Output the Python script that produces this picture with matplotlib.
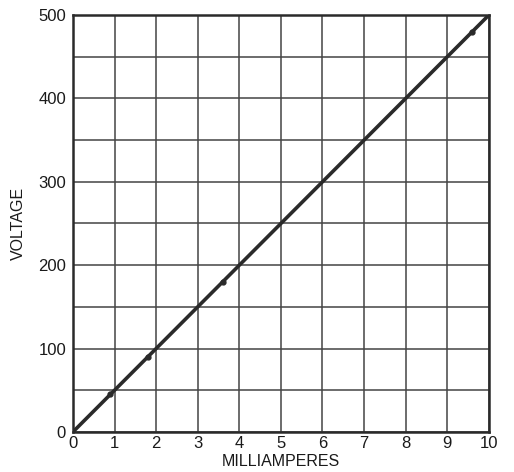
import numpy as np
import matplotlib.pyplot as plt

plt.rcParams['font.family'] = ['Liberation Sans', 'DejaVu Sans']

# calibration line and measured points
line_ma = [0, 10]
line_volts = [0, 500]
point_ma = [0.9, 1.8, 3.6, 9.6]
point_volts = [45, 90, 180, 480]

x_ticks = list(range(0, 11))
y_ticks = [0, 100, 200, 300, 400, 500]

fig = plt.figure(figsize=(5.14, 4.72), dpi=100)
ax = fig.add_axes([0.142, 0.085, 0.809, 0.883])

ink = '#2a2a2a'

ax.plot(line_ma, line_volts, color=ink, linewidth=2.6, solid_capstyle='butt', zorder=3)
ax.plot(point_ma, point_volts, 'o', color=ink, markersize=3.5, zorder=4)

ax.set_xlim(0, 10)
ax.set_ylim(0, 500)
ax.set_xticks(x_ticks)
ax.set_yticks(y_ticks)
ax.set_xticks(np.arange(0, 10.5, 1), minor=True)
ax.set_yticks(np.arange(0, 501, 50), minor=True)
ax.grid(True, which='both', color='#444444', linewidth=1.1)

ax.tick_params(which='both', length=0, labelsize=12, colors='#1a1a1a', pad=5)
ax.tick_params(axis='x', pad=3)
for s in ax.spines.values():
    s.set_color(ink)
    s.set_linewidth(1.8)

ax.set_xlabel('MILLIAMPERES', fontsize=11.5, labelpad=2, color='#1a1a1a')
ax.set_ylabel('VOLTAGE', fontsize=11.5, labelpad=9, color='#1a1a1a')

fig.savefig('out.png', dpi=100, facecolor='white')
